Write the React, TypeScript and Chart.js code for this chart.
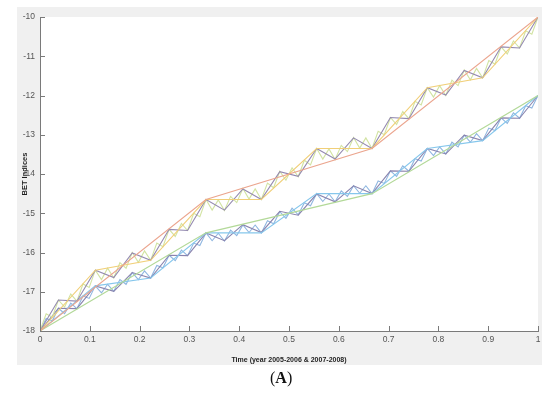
import React, { useEffect, useRef } from 'react';
import { Chart, registerables } from 'chart.js';

Chart.register(...registerables);

// Tick values / labels
const xTickValues = [0, 0.1, 0.2, 0.3, 0.4, 0.5, 0.6, 0.7, 0.8, 0.9, 1];
const xTickLabels = ['0', '0.1', '0.2', '0.3', '0.4', '0.5', '0.6', '0.7', '0.8', '0.9', '1'];
const yTickValues = [-18, -17, -16, -15, -14, -13, -12, -11, -10];
const yTickLabels = ['-18', '-17', '-16', '-15', '-14', '-13', '-12', '-11', '-10'];

const xTitle = 'Time (year 2005-2006 & 2007-2008)';
const yTitle = 'BET Indices';

// Upper group (iterations 1..4), evenly spaced over time 0..1
const upper1Y = [-18, -14.65, -13.35, -10];
const upper2Y = [-18, -16.45, -16.2, -14.65, -14.65, -13.35, -13.35, -11.8, -11.55, -10];
const upper3Y = [
  -18, -17.21, -17.24, -16.45, -16.64, -16.01, -16.2, -15.41, -15.44, -14.65,
  -14.92, -14.38, -14.65, -13.94, -14.06, -13.35, -13.62, -13.08, -13.35,
  -12.56, -12.59, -11.8, -11.99, -11.36, -11.55, -10.76, -10.79, -10,
];
const upper4Y = [
  -18, -17.56, -17.65, -17.21, -17.39, -17.06, -17.24, -16.8, -16.89,
  -16.45, -16.69, -16.4, -16.65, -16.26, -16.4, -16.0, -16.25, -15.96,
  -16.2, -15.76, -15.85, -15.41, -15.59, -15.26, -15.44, -15.0, -15.09,
  -14.65, -14.92, -14.66, -14.93, -14.57, -14.73, -14.37, -14.64, -14.38,
  -14.65, -14.23, -14.35, -13.93, -14.16, -13.84, -14.07, -13.65, -13.77,
  -13.35, -13.62, -13.36, -13.63, -13.27, -13.43, -13.07, -13.34, -13.08,
  -13.35, -12.91, -13.0, -12.56, -12.74, -12.41, -12.59, -12.15, -12.24,
  -11.8, -12.04, -11.75, -12.0, -11.61, -11.75, -11.35, -11.6, -11.31,
  -11.55, -11.11, -11.2, -10.76, -10.94, -10.61, -10.79, -10.35, -10.44,
  -10,
];

// Lower group (iterations 1..4)
const lower1Y = [-18, -15.5, -14.5, -12];
const lower2Y = [-18, -16.85, -16.65, -15.5, -15.5, -14.5, -14.5, -13.35, -13.15, -12];
const lower3Y = [
  -18, -17.42, -17.43, -16.85, -16.99, -16.51, -16.65, -16.07, -16.08, -15.5,
  -15.7, -15.29, -15.49, -14.95, -15.05, -14.51, -14.71, -14.3, -14.5,
  -13.92, -13.93, -13.35, -13.49, -13.01, -13.15, -12.57, -12.58, -12,
];
const lower4Y = [
  -18, -17.68, -17.74, -17.42, -17.56, -17.29, -17.43, -17.11, -17.17,
  -16.85, -17.03, -16.81, -16.99, -16.69, -16.81, -16.51, -16.69, -16.47,
  -16.65, -16.33, -16.39, -16.07, -16.21, -15.94, -16.08, -15.76, -15.82,
  -15.5, -15.7, -15.51, -15.71, -15.43, -15.57, -15.3, -15.49, -15.3,
  -15.5, -15.19, -15.27, -14.96, -15.13, -14.87, -15.04, -14.73, -14.81,
  -14.5, -14.7, -14.51, -14.71, -14.43, -14.57, -14.3, -14.49, -14.3,
  -14.5, -14.18, -14.24, -13.92, -14.06, -13.79, -13.93, -13.61, -13.67,
  -13.35, -13.53, -13.31, -13.49, -13.19, -13.31, -13.01, -13.19, -12.97,
  -13.15, -12.83, -12.89, -12.57, -12.71, -12.44, -12.58, -12.26, -12.32,
  -12,
];

const seriesData = [upper1Y, upper2Y, upper3Y, upper4Y, lower1Y, lower2Y, lower3Y, lower4Y];
const seriesNames = ['U1', 'U2', 'U3', 'U4', 'L1', 'L2', 'L3', 'L4'];
const seriesColors = [
  '#eba58e', '#f1cf78', '#948ab0', '#d2e3a2',
  '#b3d999', '#86c7ec', '#8a84ae', '#8fb6e0',
];

const toPoints = (ys: number[]) => ys.map((y, i) => ({ x: i / (ys.length - 1), y }));

const FONT = '"Liberation Sans Narrow", "Liberation Sans", Arial, sans-serif';

const figurePlugin = {
  id: 'figureBg',
  beforeDraw(chart: any) {
    const { ctx, chartArea } = chart;
    ctx.save();
    ctx.fillStyle = '#f0f0f0';
    ctx.fillRect(17, 7, 525, 358);
    ctx.fillStyle = '#ffffff';
    ctx.fillRect(chartArea.left, chartArea.top, chartArea.right - chartArea.left, chartArea.bottom - chartArea.top);
    ctx.restore();
  },
  afterDraw(chart: any) {
    const { ctx, chartArea, scales } = chart;
    ctx.save();
    ctx.strokeStyle = '#7a7a7a';
    ctx.lineWidth = 1;
    ctx.beginPath();
    for (const v of xTickValues) {
      const px = Math.round(scales.x.getPixelForValue(v)) + 0.5;
      ctx.moveTo(px, chartArea.bottom);
      ctx.lineTo(px, chartArea.bottom - 5);
    }
    for (const v of yTickValues) {
      const py = Math.round(scales.y.getPixelForValue(v)) + 0.5;
      ctx.moveTo(chartArea.left, py);
      ctx.lineTo(chartArea.left + 5, py);
    }
    ctx.stroke();
    ctx.restore();
  },
};

export default function App() {
  const ref = useRef<HTMLCanvasElement | null>(null);

  useEffect(() => {
    if (!ref.current) return;
    const chart = new Chart(ref.current, {
      type: 'line',
      data: {
        datasets: seriesData.map((ys, i) => ({
          label: seriesNames[i],
          data: toPoints(ys),
          borderColor: seriesColors[i],
          borderWidth: 1.1,
          pointRadius: 0,
          tension: 0,
          fill: false,
        })),
      },
      options: {
        animation: false,
        responsive: false,
        events: [],
        layout: { padding: { left: 16, top: 17, right: 12, bottom: 30 } },
        plugins: { legend: { display: false }, tooltip: { enabled: false } },
        scales: {
          x: {
            type: 'linear',
            min: 0,
            max: 1,
            afterBuildTicks: (s: any) => { s.ticks = xTickValues.map((v) => ({ value: v })); },
            afterFit: (s: any) => { s.height = 33; },
            grid: { drawOnChartArea: false, drawTicks: false },
            border: { display: true, color: '#7a7a7a', width: 1 },
            ticks: {
              padding: 4,
              color: '#555555',
              font: { family: FONT, size: 8.5 },
              maxRotation: 0,
              callback: (_v: any, i: number) => xTickLabels[i],
            },
            title: {
              display: true,
              text: xTitle,
              color: '#1e1e1e',
              font: { family: FONT, size: 7, weight: 'bold' },
              padding: { top: 10, bottom: 0 },
            },
          },
          y: {
            type: 'linear',
            min: -18,
            max: -10,
            afterBuildTicks: (s: any) => { s.ticks = yTickValues.map((v) => ({ value: v })); },
            afterFit: (s: any) => { s.width = 24; },
            grid: { drawOnChartArea: false, drawTicks: false },
            border: { display: true, color: '#7a7a7a', width: 1 },
            ticks: {
              padding: 5,
              color: '#555555',
              font: { family: FONT, size: 8.5 },
              callback: (_v: any, i: number) => yTickLabels[i],
            },
            title: {
              display: true,
              text: yTitle,
              color: '#1e1e1e',
              font: { family: FONT, size: 7.5, weight: 'bold' },
              padding: { top: 4.5, bottom: 0 },
            },
          },
        },
      },
      plugins: [figurePlugin],
    } as any);
    return () => chart.destroy();
  }, []);

  return (
    <div style={{ position: 'absolute', left: 0, top: 0, width: 550, height: 394, background: '#ffffff' }}>
      <canvas ref={ref} width={550} height={394} style={{ position: 'absolute', left: 0, top: 0, width: 550, height: 394 }} />
      <div
        style={{
          position: 'absolute',
          left: 270,
          top: 370,
          fontFamily: '"Liberation Serif", "Times New Roman", serif',
          fontSize: 16,
          lineHeight: '16px',
          color: '#111',
          whiteSpace: 'nowrap',
        }}
      >
        (<b>A</b>)
      </div>
    </div>
  );
}
